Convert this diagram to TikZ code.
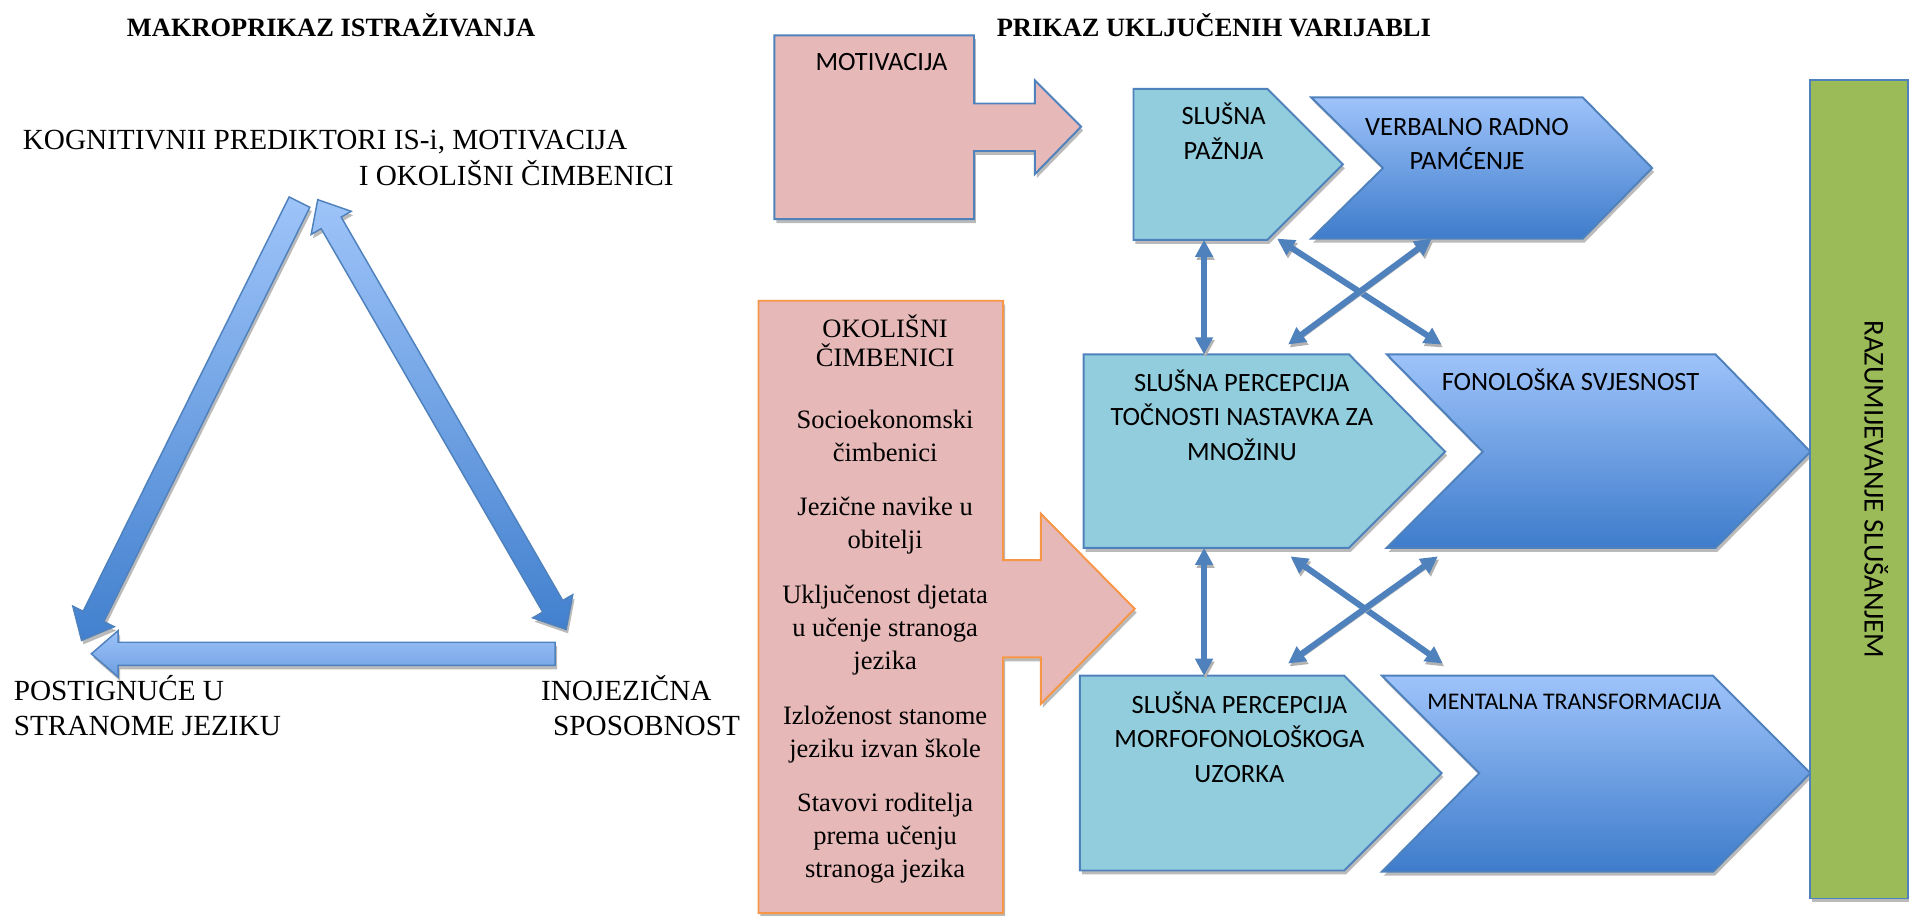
\documentclass[tikz,border=0pt]{standalone}
\usepackage{fontspec}
\setmainfont{Liberation Serif}
\newfontfamily\calfont{Carlito}
\usepackage{tikz}
\usetikzlibrary{calc,shadows,arrows.meta}

\definecolor{lineblue}{RGB}{79,129,189}
\definecolor{pentfill}{RGB}{146,205,221}
\definecolor{chevtop}{RGB}{158,195,250}
\definecolor{chevbot}{RGB}{62,124,203}
\definecolor{pinkfill}{RGB}{230,185,184}
\definecolor{orangeline}{RGB}{247,150,70}
\definecolor{greenfill}{RGB}{155,187,89}
\definecolor{arrlight}{RGB}{158,196,249}
\definecolor{arrmid}{RGB}{110,158,225}
\definecolor{arrdark}{RGB}{66,128,206}

\tikzset{
  boxshadow/.style={drop shadow={shadow xshift=0.8pt,shadow yshift=-1.6pt,fill=black!45,opacity=0.6}},
  pentbox/.style={draw=lineblue, line width=0.8pt, fill=pentfill, boxshadow},
  chevbox/.style={draw=lineblue, line width=0.8pt, top color=chevtop, bottom color=chevbot, boxshadow},
  callpink/.style={line width=0.8pt, fill=pinkfill, boxshadow},
  greenbox/.style={draw=lineblue, line width=0.8pt, fill=greenfill, boxshadow},
  triarrow/.style={draw=lineblue, line width=0.6pt, top color=arrlight, bottom color=arrdark, boxshadow},
  link/.style={draw=lineblue, line width=2.5pt, {Triangle[length=7pt,width=7pt]}-{Triangle[length=7pt,width=7pt]},
    preaction={draw=black!30, transform canvas={shift={(0.6pt,-1.2pt)}}}},
  caltext/.style={font=\calfont\fontsize{10.85}{14.2}\selectfont, inner sep=0pt, align=center},
  serif/.style={font=\fontsize{10.85}{13}\selectfont, inner sep=0pt},
  bigtxt/.style={font=\fontsize{12}{14.5}\selectfont, inner sep=0pt},
}

% block arrows of the triangle
\newcommand{\singlearrow}[3][]{%
  \coordinate (ha) at ($(#3)!11pt!(#2)$);
  \path[triarrow,#1] ($(#2)!4.75pt!90:(#3)$) -- ($(ha)!4.75pt!-90:(#2)$) -- ($(ha)!9.5pt!-90:(#2)$) -- (#3)
    -- ($(ha)!9.5pt!90:(#2)$) -- ($(ha)!4.75pt!90:(#2)$) -- ($(#2)!4.75pt!-90:(#3)$) -- cycle;}
\newcommand{\doublearrow}[2]{%
  \coordinate (ha) at ($(#2)!11pt!(#1)$);
  \coordinate (hb) at ($(#1)!11pt!(#2)$);
  \path[triarrow] (#1) -- ($(hb)!9.5pt!90:(#2)$) -- ($(hb)!4.75pt!90:(#2)$) -- ($(ha)!4.75pt!-90:(#1)$)
    -- ($(ha)!9.5pt!-90:(#1)$) -- (#2) -- ($(ha)!9.5pt!90:(#1)$) -- ($(ha)!4.75pt!90:(#1)$)
    -- ($(hb)!4.75pt!-90:(#2)$) -- ($(hb)!9.5pt!-90:(#2)$) -- cycle;}

\begin{document}
\begin{tikzpicture}[x=0.5pt,y=-0.5pt]
\useasboundingbox (0,0) rectangle (1568,752);

%% left: makroprikaz
\node[serif, anchor=base] (ttl-l) at (272,29.6) {\bfseries MAKROPRIKAZ ISTRAŽIVANJA};
\node[bigtxt, anchor=base] (kog1) at (267,123) {KOGNITIVNII PREDIKTORI IS-i, MOTIVACIJA};
\node[bigtxt, anchor=base] (kog2) at (424,152) {I OKOLIŠNI ČIMBENICI};

\coordinate (lt) at (246,166); \coordinate (lb) at (67,526);
\coordinate (rt) at (261,164); \coordinate (rb) at (465,517);
\coordinate (bt) at (456,537); \coordinate (bb) at (75,537);
\singlearrow{lt}{lb}
\doublearrow{rt}{rb}
\singlearrow[bottom color=arrmid]{bt}{bb}

\node[bigtxt, anchor=base west, align=left] (post) at (11,604) {POSTIGNUĆE U\\STRANOME JEZIKU};
\node[bigtxt, anchor=base west, align=left] (ino) at (444,604) {INOJEZIČNA\\\hspace*{5pt}SPOSOBNOST};

%% right: varijable
\node[serif, anchor=base] (ttl-r) at (997,29.6) {\bfseries PRIKAZ UKLJUČENIH VARIJABLI};

\path[callpink, draw=lineblue] (636,29) -- (800,29) -- (800,85) -- (850,85) -- (850,66) -- (888,104)
  -- (850,143) -- (850,124) -- (800,124) -- (800,180) -- (636,180) -- cycle;
\node[caltext, anchor=base] (motiv) at (724,58) {MOTIVACIJA};

\path[callpink, draw=orangeline] (623,247) -- (824,247) -- (824,460) -- (855,460) -- (855,422) -- (932,500)
  -- (855,578) -- (855,540) -- (824,540) -- (824,750) -- (623,750) -- cycle;
\node[font=\fontsize{10.9}{13.5}\selectfont, inner sep=0pt, align=center, anchor=base] (okol) at (727,720.8)
  {OKOLIŠNI\\[-1.5pt]ČIMBENICI\\[11.8pt]Socioekonomski\\čimbenici\\[9pt]Jezične navike u\\obitelji\\[9pt]%
   Uključenost djetata\\u učenje stranoga\\jezika\\[9pt]Izloženost stanome\\jeziku izvan škole\\[9pt]%
   Stavovi roditelja\\prema učenju\\stranoga jezika};

\path[pentbox] (931,73) -- (1041,73) -- (1103,135) -- (1041,197) -- (931,197) -- cycle;
\node[caltext, anchor=base] (pazn) at (1005,131) {SLUŠNA\\PAŽNJA};
\path[chevbox] (1077,80) -- (1300,80) -- (1357,138) -- (1300,196) -- (1077,196) -- (1136,138) -- cycle;
\node[caltext, anchor=base] (verb) at (1205,139.6) {VERBALNO RADNO\\PAMĆENJE};

\path[pentbox] (890,291) -- (1108,291) -- (1187,371) -- (1108,450) -- (890,450) -- cycle;
\node[caltext, anchor=base] (toc) at (1020,378) {SLUŠNA PERCEPCIJA\\TOČNOSTI NASTAVKA ZA\\MNOŽINU};
\path[chevbox] (1139,291) -- (1409,291) -- (1487,371) -- (1409,450) -- (1139,450) -- (1218,371) -- cycle;
\node[caltext, anchor=base] (fon) at (1290,321) {FONOLOŠKA SVJESNOST};

\path[pentbox] (887,555) -- (1104,555) -- (1184,635) -- (1104,715) -- (887,715) -- cycle;
\node[caltext, anchor=base] (morf) at (1018,642.5) {SLUŠNA PERCEPCIJA\\MORFOFONOLOŠKOGA\\UZORKA};
\path[chevbox] (1135,555) -- (1407,555) -- (1487,635) -- (1407,716) -- (1135,716) -- (1215,635) -- cycle;
\node[caltext, font=\calfont\fontsize{9.8}{12}\selectfont, anchor=base] (ment) at (1293,583) {MENTALNA TRANSFORMACIJA};

\path[greenbox] (1487,66) rectangle (1567,738);
\node[caltext, font=\calfont\fontsize{11.8}{14}\selectfont, rotate=-90] (razum) at (1541,402) {RAZUMIJEVANJE SLUŠANJEM};

% veze
\coordinate (pazn-s) at (989,197); \coordinate (toc-n) at (989,291);
\coordinate (toc-s) at (989,450); \coordinate (morf-n) at (989,555);
\coordinate (pazn-se) at (1049,196); \coordinate (fon-nw) at (1184,283);
\coordinate (verb-sw) at (1176,196); \coordinate (toc-ne) at (1058,283);
\coordinate (toc-se) at (1060,457); \coordinate (ment-nw) at (1185,545);
\coordinate (fon-sw) at (1181,457); \coordinate (morf-ne) at (1058,545);
\draw[link] (pazn-s) -- (toc-n);
\draw[link] (toc-s) -- (morf-n);
\draw[link] (pazn-se) -- (fon-nw);
\draw[link] (verb-sw) -- (toc-ne);
\draw[link] (toc-se) -- (ment-nw);
\draw[link] (fon-sw) -- (morf-ne);

\end{tikzpicture}
\end{document}
